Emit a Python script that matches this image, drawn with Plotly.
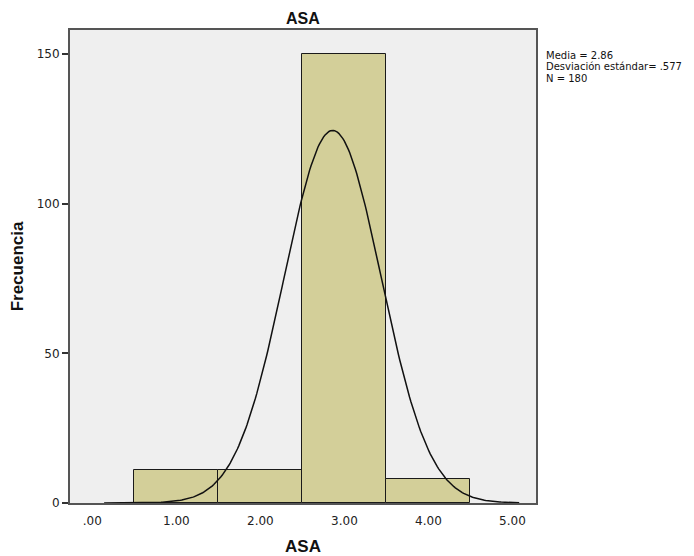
import numpy as np
import plotly.graph_objects as go

# Histogram data
bin_centers = [1.0, 2.0, 3.0, 4.0]
bin_counts = [11, 11, 150, 8]
bin_width = 1.0

# Summary statistics shown in the legend box
mean_val = 2.86
sd_val = 0.577
n_val = 180

x_tick_vals = [0, 1, 2, 3, 4, 5]
x_tick_text = [".00", "1.00", "2.00", "3.00", "4.00", "5.00"]
y_tick_vals = [0, 50, 100, 150]

legend_lines = [f"Media = {mean_val:.2f}",
                f"Desviación estándar= {str(sd_val)[1:]}",
                f"N = {n_val}"]

# page body has an 8px margin, so the figure is drawn 8px smaller
W, H = 686, 548
L, T, R, B = 62, 22, 158, 53

fig = go.Figure()
fig.add_trace(go.Bar(
    x=bin_centers, y=bin_counts, width=[bin_width] * len(bin_centers),
    marker=dict(color="#D3CF99", line=dict(color="#1a1a1a", width=1)),
    hoverinfo="x+y", showlegend=False,
))

# Normal curve from the stated mean / sd / N
xc = np.linspace(0.14, 5.08, 300)
yc = n_val * bin_width / (sd_val * np.sqrt(2 * np.pi)) * np.exp(-0.5 * ((xc - mean_val) / sd_val) ** 2)
fig.add_trace(go.Scatter(x=xc, y=yc, mode="lines",
                         line=dict(color="#111111", width=1.5),
                         hoverinfo="skip", showlegend=False))

plot_h = H - T - B
annots = []
for i, line in enumerate(legend_lines):
    annots.append(dict(
        text=line, xref="paper", yref="paper",
        x=1 + 8 / (W - L - R), y=1 - (25 + 11.5 * i) / plot_h,
        xanchor="left", yanchor="middle", align="left", showarrow=False,
        font=dict(family="DejaVu Sans, sans-serif", size=10, color="#111"),
    ))
# chart title
annots.append(dict(
    text="<b>ASA</b>", xref="paper", yref="paper", x=0.5, y=1 + T / plot_h,
    xanchor="center", yanchor="top", showarrow=False,
    font=dict(family="Liberation Sans, Arial, sans-serif", size=16, color="#111"),
))

fig.update_layout(
    width=W, height=H,
    margin=dict(l=L, r=R, t=T, b=B, autoexpand=False),
    paper_bgcolor="white", plot_bgcolor="#EFEFEF",
    font=dict(family="DejaVu Sans, sans-serif", size=12, color="#222"),
    bargap=0,
    xaxis=dict(range=[-0.266, 5.28], tickvals=x_tick_vals, ticktext=x_tick_text,
               showgrid=False, zeroline=False, showline=True, mirror=True,
               linecolor="#555", linewidth=2, ticks="", ticklabelstandoff=6,
               automargin=False,
               title=dict(text="<b>ASA</b>",
                          font=dict(family="Liberation Sans, Arial, sans-serif", size=17, color="#111"),
                          standoff=14)),
    yaxis=dict(range=[0, 158], tickvals=y_tick_vals, showgrid=False, zeroline=False,
               showline=True, mirror=True, linecolor="#555", linewidth=2,
               ticks="outside", ticklen=6, tickcolor="#333", tickwidth=2,
               automargin=False,
               title=dict(text="<b>Frecuencia</b>",
                          font=dict(family="Liberation Sans, Arial, sans-serif", size=17, color="#111"),
                          standoff=12)),
    annotations=annots,
)

fig.write_html("out.html")
